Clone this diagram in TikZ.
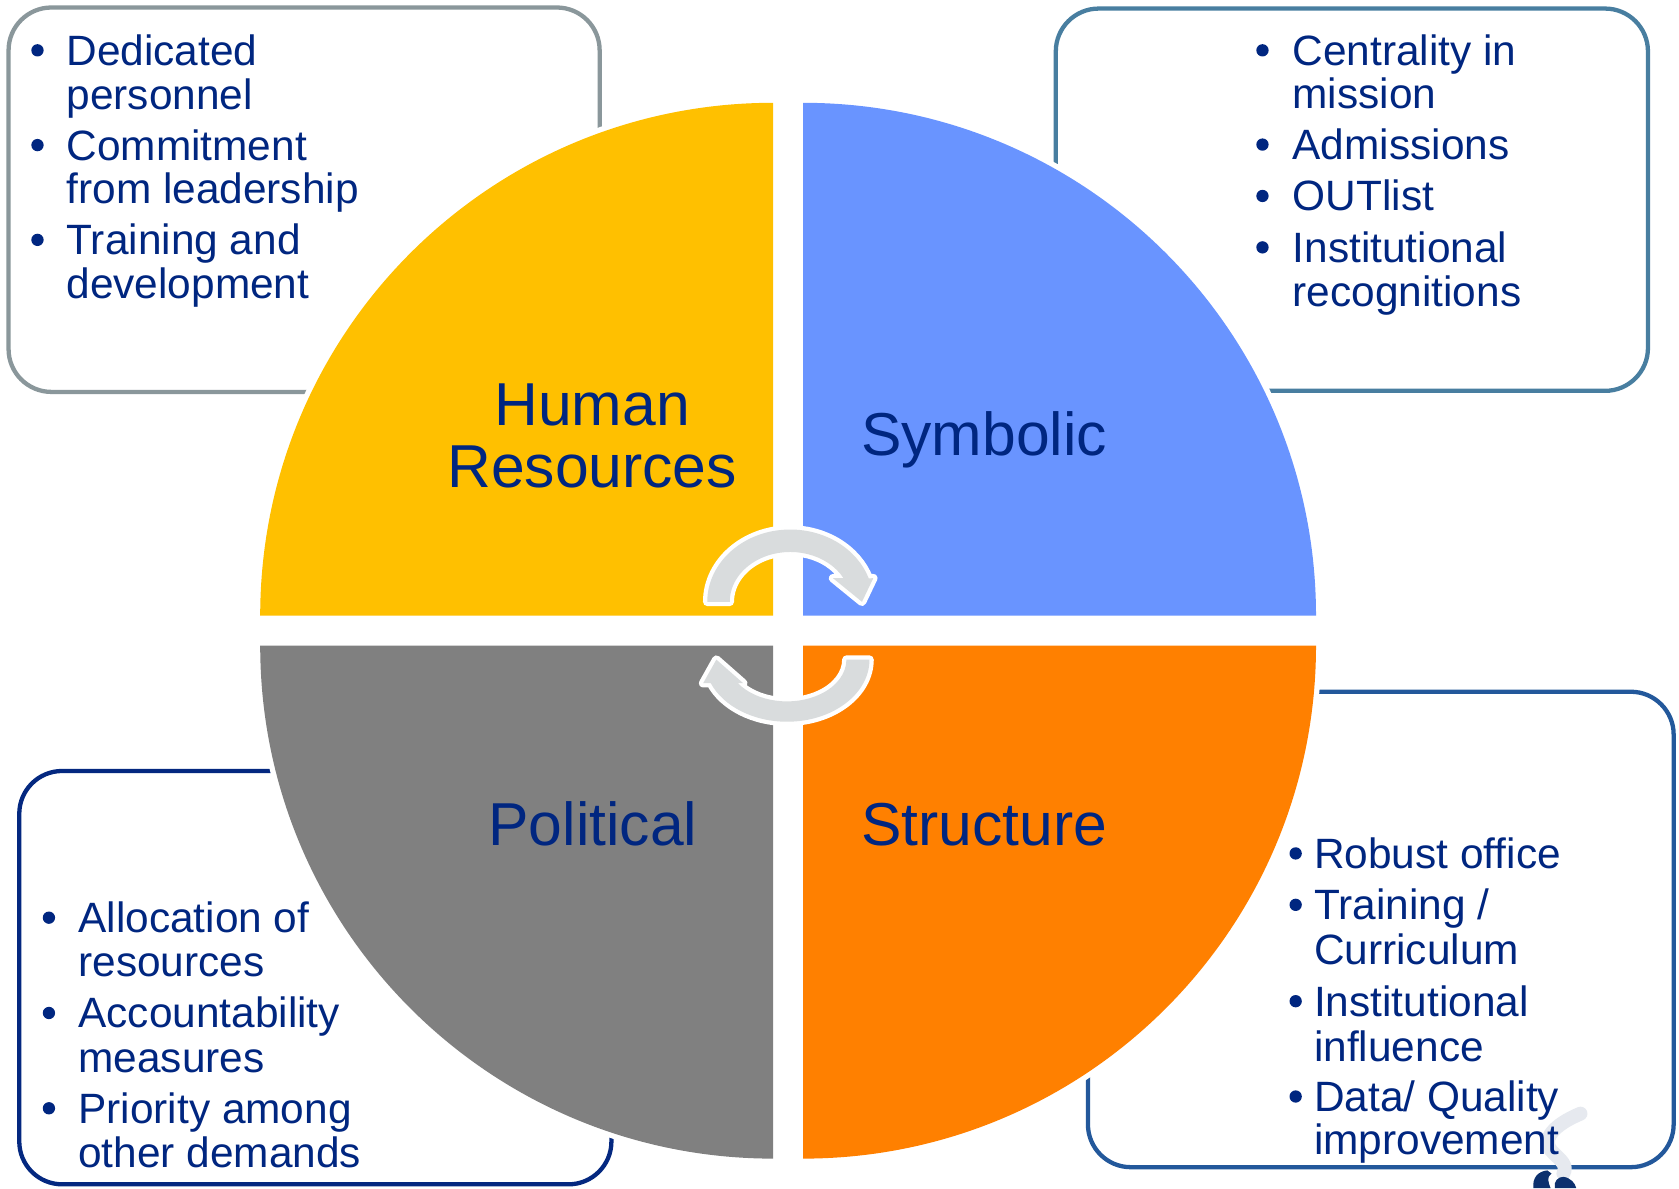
\documentclass[tikz,border=0pt]{standalone}
\usepackage{fontspec}
\setmainfont{Liberation Sans}
\definecolor{txt}{RGB}{0,38,128}
\definecolor{qyellow}{RGB}{255,192,0}
\definecolor{qblue}{RGB}{105,148,255}
\definecolor{qgray}{RGB}{128,128,128}
\definecolor{qorange}{RGB}{255,128,0}
\definecolor{arrowgray}{RGB}{217,220,221}
\definecolor{bTL}{RGB}{138,151,155}
\definecolor{bTR}{RGB}{72,126,160}
\definecolor{bBL}{RGB}{4,40,128}
\definecolor{bBR}{RGB}{35,88,155}
\definecolor{logogray}{RGB}{230,233,239}
\definecolor{logonavy}{RGB}{12,48,110}
\begin{document}
\begin{tikzpicture}[x=1pt,y=-1pt,
  box/.style={line width=4, rounded corners=40, fill=white},
  itemtext/.style={anchor=base west, inner sep=0, text=txt, font=\fontsize{39.6}{41}\selectfont},
  bullet/.style={circle, fill=txt, inner sep=0, minimum size=11.5},
  biglabel/.style={inner sep=0, text=txt, font=\fontsize{56.6}{58}\selectfont},
  quad/.style={preaction={draw=white, line width=10}},
  carrow/.style={fill=arrowgray, preaction={draw=white, line width=8, line join=round}}]

\useasboundingbox[fill=white] (0,0) rectangle (1568,1109.46);

% boxes
\draw[box, draw=bTL] (8,7) rectangle (560,366);
\draw[box, draw=bTR] (986,8) rectangle (1539,365);
\draw[box, draw=bBL] (18,720) rectangle (571,1106);
\draw[box, draw=bBR] (1016,646) rectangle (1563,1090);

% partly visible logo
\draw[logogray, line width=13, line cap=round]
  (1476,1040) .. controls (1452,1050) and (1438,1064) .. (1450,1076)
  .. controls (1458,1084) and (1464,1088) .. (1460,1096);
\fill[logonavy] (1432,1109.46) .. controls (1431,1100) and (1436,1094) .. (1445,1093)
  -- (1449,1096) .. controls (1444,1099) and (1446,1104) .. (1448,1109.46) -- cycle;
\fill[logonavy] (1452,1109.46) .. controls (1451,1103) and (1455,1099) .. (1460,1099)
  .. controls (1467,1100) and (1471,1105) .. (1472,1109.46) -- cycle;

% quadrants
\fill[qyellow, quad] (722,575) -- ++(-479,0) arc[start angle=180, end angle=270, radius=479] -- cycle;
\fill[qblue, quad] (750,575) -- ++(0,-479) arc[start angle=270, end angle=360, radius=479] -- cycle;
\fill[qorange, quad] (750,603) -- ++(479,0) arc[start angle=0, end angle=90, radius=479] -- cycle;
\fill[qgray, quad] (722,603) -- ++(0,479) arc[start angle=90, end angle=180, radius=479] -- cycle;

% circular arrows
\path[carrow] (660.5,562) arc[start angle=180, end angle=341, x radius=77.5, y radius=67.5]
  -- (815.5,540) -- (805,562) -- (778,540) -- (787.8,540)
  arc[start angle=331.8, end angle=180, x radius=56.5, y radius=46.5] -- cycle;
\path[carrow] (812,616) arc[start angle=0, end angle=157.7, x radius=77, y radius=58]
  -- (656.7,638) -- (669,616) -- (694,638) -- (689.1,638)
  arc[start angle=145.7, end angle=0, x radius=55.5, y radius=39] -- cycle;

% main labels
\node[biglabel, anchor=base] (hr1) at (553,397) {Human};
\node[biglabel, anchor=base] (hr2) at (553,455) {Resources};
\node[biglabel, anchor=base west] (sym) at (804,425) {Symbolic};
\node[biglabel, anchor=base west] (pol) at (456,790) {Political};
\node[biglabel, anchor=base west] (str) at (804,790) {Structure};

% top-left list
\node[bullet] (tlb1) at (35,47) {};
\node[itemtext] (tl1a) at (62,61) {Dedicated};
\node[itemtext] (tl1b) at (62,102) {personnel};
\node[bullet] (tlb2) at (35,135.5) {};
\node[itemtext] (tl2a) at (62,149.5) {Commitment};
\node[itemtext] (tl2b) at (62,190.5) {from leadership};
\node[bullet] (tlb3) at (35,224) {};
\node[itemtext] (tl3a) at (62,238) {Training and};
\node[itemtext] (tl3b) at (62,279) {development};

% top-right list
\node[bullet] (trb1) at (1179,47) {};
\node[itemtext] (tr1a) at (1207,61) {Centrality in};
\node[itemtext] (tr1b) at (1207,101.5) {mission};
\node[bullet] (trb2) at (1179,135) {};
\node[itemtext] (tr2) at (1207,149) {Admissions};
\node[bullet] (trb3) at (1179,183) {};
\node[itemtext] (tr3) at (1207,197) {OUTlist};
\node[bullet] (trb4) at (1179,231) {};
\node[itemtext] (tr4a) at (1207,245) {Institutional};
\node[itemtext] (tr4b) at (1207,286) {recognitions};

% bottom-left list
\node[bullet] (blb1) at (45.7,857) {};
\node[itemtext] (bl1a) at (73,871) {Allocation of};
\node[itemtext] (bl1b) at (73,912) {resources};
\node[bullet] (blb2) at (45.7,946) {};
\node[itemtext] (bl2a) at (73,960) {Accountability};
\node[itemtext] (bl2b) at (73,1002) {measures};
\node[bullet] (blb3) at (45.7,1035) {};
\node[itemtext] (bl3a) at (73,1049) {Priority among};
\node[itemtext] (bl3b) at (73,1090) {other demands};

% bottom-right list
\node[bullet] (brb1) at (1210,797) {};
\node[itemtext] (br1) at (1227,811) {Robust office};
\node[bullet] (brb2) at (1210,845) {};
\node[itemtext] (br2a) at (1227,859) {Training /};
\node[itemtext] (br2b) at (1227,901) {Curriculum};
\node[bullet] (brb3) at (1210,935) {};
\node[itemtext] (br3a) at (1227,949) {Institutional};
\node[itemtext] (br3b) at (1227,991) {influence};
\node[bullet] (brb4) at (1210,1024) {};
\node[itemtext] (br4a) at (1227,1038) {Data/ Quality};
\node[itemtext] (br4b) at (1227,1078) {improvement};
\end{tikzpicture}
\end{document}
